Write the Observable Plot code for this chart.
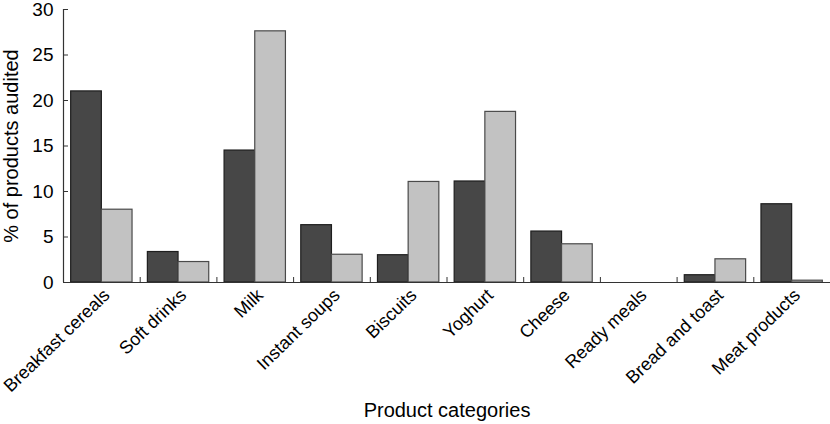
<!DOCTYPE html>
<html>
<head>
<meta charset="utf-8">
<script src="https://cdn.jsdelivr.net/npm/d3@7"></script>
<script src="https://cdn.jsdelivr.net/npm/@observablehq/plot@0.6"></script>
<style>
  html, body { margin: 0; padding: 0; background: #fff; }
  #chart { width: 830px; height: 424px; }
  svg { font-family: "Liberation Sans", Arial, Helvetica, sans-serif; }
</style>
</head>
<body>
<div id="chart"></div>
<script>
const categories = ["Breakfast cereals", "Soft drinks", "Milk", "Instant soups", "Biscuits", "Yoghurt", "Cheese", "Ready meals", "Bread and toast", "Meat products"];
const seriesNames = ["Series A", "Series B"];
const seriesA = [21.0, 3.35, 14.5, 6.3, 3.0, 11.1, 5.6, 0, 0.8, 8.6];
const seriesB = [8.0, 2.25, 27.6, 3.05, 11.05, 18.75, 4.2, 0, 2.55, 0.2];
const yTicks = [0, 5, 10, 15, 20, 25, 30];
const yTitle = "% of products audited";
const xTitle = "Product categories";

const fills = {"Series A": "#474747", "Series B": "#c2c2c2"};
const strokes = {"Series A": "#1e1e1e", "Series B": "#4a4a4a"};

// one row per bar: category index and series slot within its group
const rows = [];
categories.forEach((c, i) => {
  rows.push({cat: c, idx: i, series: seriesNames[0], slot: 0, value: seriesA[i]});
  rows.push({cat: c, idx: i, series: seriesNames[1], slot: 1, value: seriesB[i]});
});
const groupPad = 0.1, barW = 0.4;
const boundaries = d3.range(1, categories.length + 1);

const chart = Plot.plot({
  width: 830,
  height: 424,
  marginTop: 9,
  marginBottom: 142,
  marginLeft: 63,
  marginRight: 0,
  style: {fontFamily: '"Liberation Sans", Arial, Helvetica, sans-serif', background: "#fff", color: "#000"},
  x: {type: "linear", domain: [0, categories.length]},
  y: {domain: [0, 30]},
  marks: [
    Plot.rectY(rows, {
      x1: d => d.idx + groupPad + d.slot * barW,
      x2: d => d.idx + groupPad + (d.slot + 1) * barW,
      y1: 0,
      y2: "value",
      fill: d => fills[d.series],
      stroke: d => strokes[d.series],
      strokeWidth: 1.2
    }),
    Plot.ruleY([0], {stroke: "#333", strokeWidth: 1.2}),
    Plot.ruleX([0], {stroke: "#333", strokeWidth: 1.2}),
    Plot.axisY(yTicks, {tickSize: 5, dx: 5, stroke: "#333", fill: "none", label: null}),
    Plot.axisY(yTicks, {tickSize: 0, tickPadding: 10, fontSize: 19, fill: "#000", label: null}),
    Plot.axisX(boundaries, {tickSize: 5, dy: -5, stroke: "#333", fill: "none", label: null}),
    Plot.text(categories, {
      x: (d, i) => i + 0.5,
      frameAnchor: "bottom",
      rotate: -44,
      textAnchor: "end",
      lineAnchor: "bottom",
      dx: 9,
      dy: 14,
      fontSize: 18,
      fill: "#000"
    }),
    Plot.text([xTitle], {frameAnchor: "bottom", dy: 128, fontSize: 20, lineAnchor: "middle", textAnchor: "middle", fill: "#000"}),
    Plot.text([yTitle], {frameAnchor: "left", dx: -52, rotate: -90, fontSize: 20, lineAnchor: "middle", textAnchor: "middle", fill: "#000"})
  ]
});
document.getElementById("chart").appendChild(chart);
</script>
</body>
</html>
